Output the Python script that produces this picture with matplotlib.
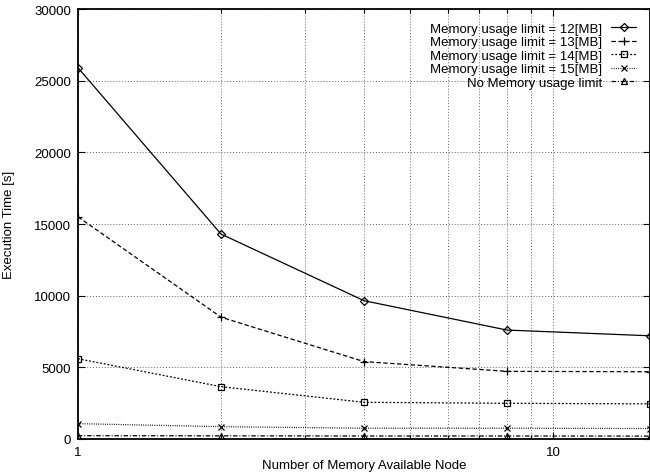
import matplotlib
matplotlib.use('Agg')
import matplotlib.pyplot as plt
from matplotlib.ticker import LogLocator, NullFormatter, FixedLocator, FixedFormatter

plt.rcParams['font.family'] = ['Liberation Sans', 'DejaVu Sans']

# Data
nodes = [1, 2, 4, 8, 16]
limit_12 = [25900, 14300, 9650, 7600, 7200]
limit_13 = [15500, 8500, 5400, 4720, 4690]
limit_14 = [5600, 3650, 2560, 2490, 2450]
limit_15 = [1070, 860, 750, 750, 730]
no_limit = [230, 220, 210, 210, 200]
labels = ['Memory usage limit = 12[MB]', 'Memory usage limit = 13[MB]',
          'Memory usage limit = 14[MB]', 'Memory usage limit = 15[MB]',
          'No Memory usage limit']

fig = plt.figure(figsize=(6.5, 4.77), dpi=100)
ax = fig.add_axes([0.12, 0.0776, 0.88, 0.9014])

ms = 5
ax.plot(nodes, limit_12, '-', color='k', lw=0.9, marker='D', ms=4, mfc='none', mew=0.9, label=labels[0])
ax.plot(nodes, limit_13, color='k', lw=0.9, dashes=(3.5, 2), marker='+', ms=ms + 1, mew=0.9, label=labels[1])
ax.plot(nodes, limit_14, color='k', lw=0.9, dashes=(1.5, 1.5), marker='s', ms=ms, mfc='none', mew=0.9, label=labels[2])
ax.plot(nodes, limit_15, color='k', lw=0.9, dashes=(0.7, 1.1), marker='x', ms=ms, mew=0.9, label=labels[3])
ax.plot(nodes, no_limit, color='k', lw=0.9, dashes=(3.5, 1.5, 0.8, 1.5), marker='^', ms=ms, mfc='none', mew=0.9, label=labels[4])

ax.set_xscale('log')
ax.set_xlim(1, 16)
ax.set_ylim(0, 30000)
ax.xaxis.set_major_locator(FixedLocator([1, 10]))
ax.xaxis.set_major_formatter(FixedFormatter(['1', '10']))
ax.xaxis.set_minor_locator(LogLocator(base=10, subs=range(2, 10)))
ax.xaxis.set_minor_formatter(NullFormatter())
ax.set_yticks(range(0, 30001, 5000))

ax.tick_params(which='both', direction='in', top=True, right=True, labelsize=9.5, pad=5)
ax.tick_params(which='major', length=5, width=0.8)
ax.tick_params(which='minor', length=3, width=0.8)

ax.grid(True, which='both', axis='x', color='0.4', lw=0.7, linestyle=(0, (1, 2)))
ax.grid(True, which='major', axis='y', color='0.4', lw=0.7, linestyle=(0, (1, 2)))
for s in ax.spines.values():
    s.set_linewidth(1.3)

ax.set_xlabel('Number of Memory Available Node', fontsize=9.5, labelpad=1)
ax.set_ylabel('Execution Time [s]', fontsize=9.5, labelpad=14)

ax.legend(loc='upper right', bbox_to_anchor=(0.992, 0.99), frameon=False, markerfirst=False,
          fontsize=9.5, handlelength=1.9, handletextpad=0.7, labelspacing=0.1, borderpad=0.2)

fig.savefig('out.png', dpi=100)
